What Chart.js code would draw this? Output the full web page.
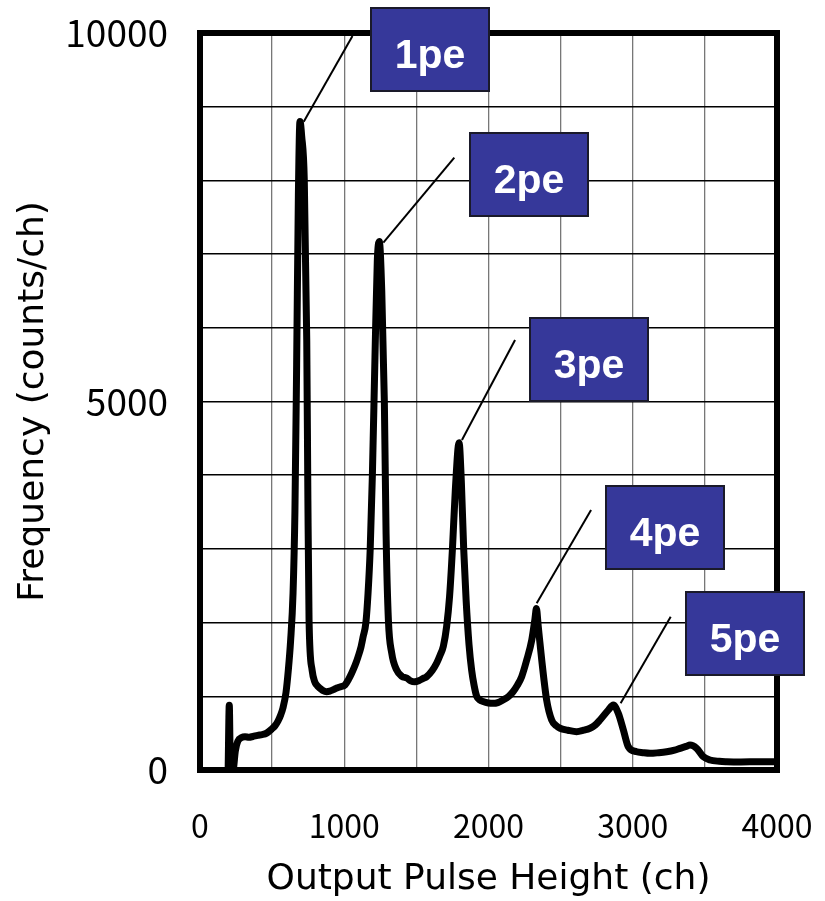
<!DOCTYPE html>
<html lang="ja">
<head>
<meta charset="UTF-8">
<title>Output Pulse Height Distribution</title>
<script src="https://cdn.jsdelivr.net/npm/chart.js@4"></script>
<style>
  body { margin: 0; background: #fff; }
  canvas { display: block; }
</style>
</head>
<body>
<canvas id="phd" width="825" height="901"></canvas>
<script>
// spectrum: channel -> counts/ch
var channels = [195, 203, 211, 229, 245, 262, 289, 312, 340, 367, 400, 430, 462, 497, 520, 541, 560, 575, 596, 612,
  628, 645, 658, 670, 682, 693, 705, 723, 740, 748, 756, 777, 795, 809, 830, 850, 878, 900, 925, 948,
  975, 1005, 1030, 1052, 1075, 1096, 1115, 1131, 1150, 1165, 1180, 1195, 1213, 1229, 1243, 1260, 1278, 1290, 1306, 1329,
  1363, 1400, 1433, 1460, 1490, 1520, 1545, 1571, 1610, 1641, 1665, 1687, 1710, 1730, 1750, 1770, 1796, 1812, 1828, 1845,
  1865, 1883, 1900, 1918, 1940, 1962, 2000, 2031, 2065, 2100, 2140, 2170, 2200, 2230, 2265, 2300, 2322, 2332, 2345, 2369,
  2403, 2438, 2470, 2496, 2550, 2611, 2660, 2704, 2740, 2773, 2831, 2865, 2900, 2935, 2969, 3027, 3070, 3120, 3180, 3235,
  3290, 3328, 3370, 3397, 3443, 3489, 3535, 3600, 3651, 3750, 3850, 3929, 3986];
var counts = [0, 880, 0, 0, 260, 390, 440, 452, 445, 455, 470, 480, 500, 556, 600, 665, 750, 841, 1050, 1350,
  1750, 2400, 3500, 5500, 7800, 8800, 8600, 8000, 5830, 3660, 2035, 1357, 1200, 1153, 1110, 1080, 1062, 1070, 1090, 1112,
  1130, 1153, 1230, 1316, 1420, 1537, 1660, 1809, 2000, 2400, 3000, 4000, 5600, 6900, 7170, 6500, 5000, 3200, 2035, 1587,
  1357, 1270, 1248, 1210, 1198, 1215, 1240, 1266, 1350, 1452, 1560, 1680, 1950, 2350, 3000, 3800, 4440, 3900, 3000, 2300,
  1700, 1357, 1150, 1000, 950, 930, 910, 905, 915, 950, 1000, 1062, 1150, 1266, 1493, 1764, 2050, 2190, 1945, 1493,
  950, 678, 600, 566, 540, 520, 540, 566, 610, 678, 814, 882, 769, 543, 316, 248, 235, 226, 235, 248,
  270, 294, 320, 339, 294, 180, 136, 118, 113, 110, 112, 113, 113];

var xTicks = [0, 1000, 2000, 3000, 4000];
var yTicks = [0, 5000, 10000];

// photoelectron peak callouts, anchored in data units (channel, counts)
var peakLabels = ['1pe', '2pe', '3pe', '4pe', '5pe'];
var leaderFrom = [[719, 8797], [1271, 7155], [1816, 4478], [2334, 2262], [2916, 905]];
var leaderTo = [[1057, 9959], [1763, 8308], [2184, 5834], [2711, 3528], [3263, 2080]];
var boxCorner = [[1185, 10339], [1872, 8643], [2288, 6133], [2815, 3853], [3369, 2415]];

var tickFont = '"Noto Sans CJK JP", "Noto Sans", sans-serif';
var titleFont = '"DejaVu Sans", sans-serif';

// keep tick-label overhang from shrinking the plot box; layout padding alone decides it
function noOverhang(s) {
  s.paddingTop = 0;
  s.paddingBottom = 0;
  s.paddingLeft = 0;
  s.paddingRight = 0;
}

var frameAndCallouts = {
  id: 'frameAndCallouts',
  afterDatasetsDraw: function (chart) {
    var a = chart.chartArea, ctx = chart.ctx;
    ctx.save();
    ctx.lineWidth = 6;
    ctx.strokeStyle = '#000';
    ctx.strokeRect(a.left, a.top, a.right - a.left, a.bottom - a.top);
    ctx.restore();
  },
  afterDraw: function (chart) {
    var x = chart.scales.x, y = chart.scales.y, ctx = chart.ctx;
    ctx.save();
    peakLabels.forEach(function (txt, i) {
      ctx.lineWidth = 2;
      ctx.strokeStyle = '#000';
      ctx.beginPath();
      ctx.moveTo(x.getPixelForValue(leaderFrom[i][0]), y.getPixelForValue(leaderFrom[i][1]));
      ctx.lineTo(x.getPixelForValue(leaderTo[i][0]), y.getPixelForValue(leaderTo[i][1]));
      ctx.stroke();

      var bx = Math.round(x.getPixelForValue(boxCorner[i][0]));
      var by = Math.round(y.getPixelForValue(boxCorner[i][1]));
      ctx.fillStyle = '#36389a';
      ctx.fillRect(bx, by, 118, 83);
      ctx.strokeStyle = '#1a1a2a';
      ctx.strokeRect(bx, by, 118, 83);
      ctx.fillStyle = '#fff';
      ctx.font = 'bold 41px "Liberation Sans", Arial, sans-serif';
      ctx.textAlign = 'center';
      ctx.textBaseline = 'alphabetic';
      ctx.fillText(txt, bx + 59, by + 60);
    });
    ctx.restore();
  }
};

var points = channels.map(function (c, i) { return { x: c, y: counts[i] }; });

new Chart(document.getElementById('phd'), {
  type: 'scatter',
  data: {
    datasets: [{
      data: points,
      showLine: true,
      borderColor: '#000',
      borderWidth: 7,
      pointRadius: 0,
      cubicInterpolationMode: 'monotone',
      borderJoinStyle: 'round',
      borderCapStyle: 'round'
    }]
  },
  options: {
    responsive: false,
    animation: false,
    layout: { padding: { top: 33, right: 48, left: 0, bottom: 0 } },
    plugins: { legend: { display: false }, tooltip: { enabled: false } },
    scales: {
      x: {
        type: 'linear',
        min: 0,
        max: 4000,
        ticks: {
          stepSize: 500,
          autoSkip: false,
          maxRotation: 0,
          padding: 37,
          color: '#000',
          font: { family: tickFont, size: 32 },
          callback: function (v) { return xTicks.indexOf(v) >= 0 ? String(v) : ''; }
        },
        grid: { color: '#777', lineWidth: 1.3, drawTicks: false },
        border: { display: false },
        title: {
          display: true,
          text: 'Output Pulse Height (ch)',
          color: '#000',
          font: { family: titleFont, size: 36 },
          padding: { top: 0, bottom: 0 }
        },
        afterFit: function (s) { s.height = 131; noOverhang(s); }
      },
      y: {
        type: 'linear',
        min: 0,
        max: 10000,
        ticks: {
          stepSize: 1000,
          autoSkip: false,
          padding: 32,
          color: '#000',
          font: { family: tickFont, size: 37 },
          callback: function (v) { return yTicks.indexOf(v) >= 0 ? String(v) : ''; }
        },
        grid: { color: '#000', lineWidth: 1.5, drawTicks: false },
        border: { display: false },
        title: {
          display: true,
          text: 'Frequency (counts/ch)',
          color: '#000',
          font: { family: titleFont, size: 36 },
          padding: { top: 12, bottom: 0 }
        },
        afterFit: function (s) { s.width = 200; noOverhang(s); }
      }
    }
  },
  plugins: [frameAndCallouts]
});
</script>
</body>
</html>
